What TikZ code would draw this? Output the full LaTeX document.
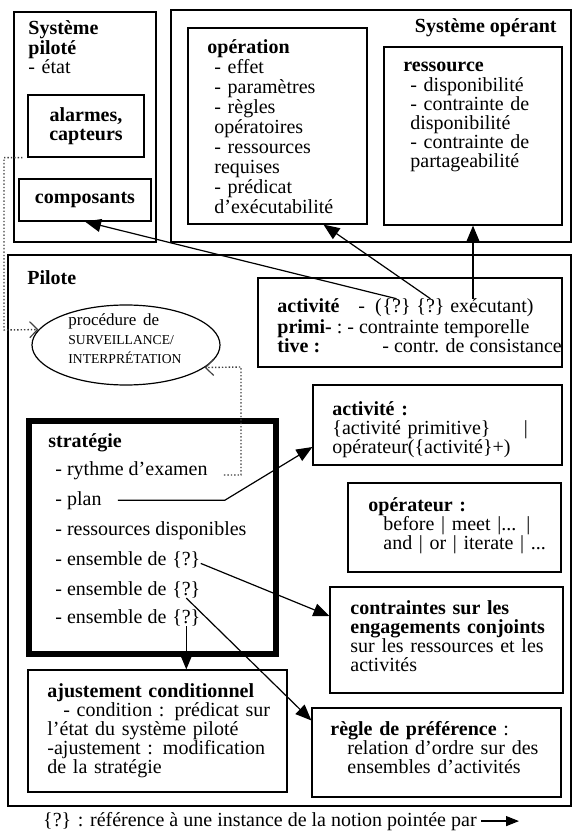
\documentclass[tikz,border=0pt]{standalone}
\usepackage{fontspec}
\setmainfont{Liberation Serif}
\usetikzlibrary{arrows.meta,shapes.geometric,fit}

\newcommand\sous{\hspace*{3.5pt}}

\tikzset{
  box/.style={draw, line width=0.6pt, inner sep=0pt},
  blk/.style={inner sep=0pt, anchor=base west, align=left, text width=#1},
  blk/.default=140pt,
  lbl/.style={inner sep=0pt, anchor=base west},
  fleche/.style={line width=0.6pt, -{Triangle[length=8pt,width=6.5pt]}},
  pointille/.style={densely dotted, line width=0.7pt, black!75,
    -{Straight Barb[length=4pt,width=8pt,line width=0.6pt]}},
}

\begin{document}
\begin{tikzpicture}[x=0.5pt, y=-0.5pt, font=\fontsize{10}{9.6}\selectfont]
\useasboundingbox (0,0) rectangle (572,839);

% systeme pilote
\node[box, fit={(14,12) (156,242)}] (spil) {};
\node[blk] (spiltxt) at (28,35) {\textbf{Système}\\\textbf{piloté}\\- état};
\node[box, fit={(28,95) (144,157)}] (alarm) {};
\node[align=center, inner sep=0pt] (alarmtxt) at (alarm.center) {\textbf{alarmes,}\\\textbf{capteurs}};
\node[box, fit={(19,179) (151,221)}] (comp) {};
\node[inner sep=0pt] (comptxt) at (comp.center) {\textbf{composants}};

% systeme operant
\node[box, fit={(171,10) (571,242)}] (sop) {};
\node[lbl, anchor=base east] (soptxt) at (557,33) {\textbf{Système opérant}};
\node[box, fit={(188,28) (367,224)}] (oper) {};
\node[blk, font=\fontsize{10}{10}\selectfont] (opertxt) at (207,54)
  {\textbf{opération}\\\sous- effet\\\sous- paramètres\\\sous- règles\\\sous opératoires\\\sous- ressources\\\sous requises\\\sous- prédicat\\\sous d’exécutabilité};
\node[box, fit={(384,47) (562,225)}] (ress) {};
\node[blk] (resstxt) at (403,72)
  {\textbf{ressource}\\\sous- disponibilité\\\sous- contrainte de\\\sous disponibilité\\\sous- contrainte de\\\sous partageabilité};

% pilote
\node[box, fit={(8,255) (571,806)}] (pil) {};
\node[lbl] (piltxt) at (27,285) {\textbf{Pilote}};
\node[draw, ellipse, line width=0.6pt, minimum width=94pt, minimum height=40pt, inner sep=0pt] (surv) at (126,345) {};
\node[blk=80pt] (survtxt) at (68,325)
  {{\fontsize{8.5}{9.5}\selectfont procédure de}\\{\fontsize{6.8}{9.5}\selectfont SURVEILLANCE/}\\{\fontsize{6.8}{9.5}\selectfont INTERPRÉTATION}};

% activite primitive
\node[box, fit={(258,278) (562,367)}] (aprim) {};
\node[lbl] (ap1) at (277,313) {\textbf{activité}};
\node[lbl] (ap1b) at (358,313) {-\ \ (};
\node[lbl] (qa) at (ap1b.base east) {\{?\}};
\node[lbl] (qb) at ([xshift=2.5pt]qa.base east) {\{?\}};
\node[lbl] (exe) at ([xshift=2.5pt]qb.base east) {exécutant)};
\node[lbl] (ap2) at (277,333) {\textbf{primi-} :\ - contrainte temporelle};
\node[lbl] (ap3) at (277,352) {\textbf{tive :}};
\node[lbl] (ap3b) at (382,352) {- contr. de consistance};

% activite, operateur
\node[box, fit={(313,385) (562,465)}] (act) {};
\node[blk] (acttxt) at (332,415) {\textbf{activité :}\\\{activité primitive\}\quad\ \ |\\opérateur(\{activité\}+)};
\node[box, fit={(348,483) (561,572)}] (opr) {};
\node[blk] (oprtxt) at (368,511) {\textbf{opérateur :}\\\hspace*{7.5pt}before | meet |... |\\\hspace*{7.5pt}and | or | iterate | ...};

% contraintes, regle
\node[box, fit={(330,587) (563,693)}] (contr) {};
\node[blk] (contrtxt) at (350,614) {\textbf{contraintes sur les}\\\textbf{engagements conjoints}\\sur les ressources et les\\activités};
\node[box, fit={(312,708) (561,797)}] (regle) {};
\node[blk] (regletxt) at (330,735) {\textbf{règle de préférence} :\\\hspace*{8.5pt}relation d’ordre sur des\\\hspace*{8.5pt}ensembles d’activités};

% ajustement
\node[box, fit={(28,670) (287,792)}] (ajust) {};
\node[blk] (ajusttxt) at (47,697) {\textbf{ajustement conditionnel}\\\hspace*{8pt}- condition : prédicat sur\\l’état du système piloté\\-ajustement : modification\\de la stratégie};

% strategie
\node[draw, line width=3pt, inner sep=0pt, fit={(29,421) (276,654)}] (strat) {};
\node[lbl] (strattxt) at (48,447) {\textbf{stratégie}};
\node[lbl] (ryth) at (55,475) {- rythme d’examen};
\node[lbl] (plan) at (55,505) {- plan};
\node[lbl] (rdisp) at (55,535) {- ressources disponibles};
\node[lbl] (ens1) at (55,565) {- ensemble de};
\node[lbl] (q1) at ([xshift=2.5pt]ens1.base east) {\{?\}};
\node[lbl] (ens2) at (55,595) {- ensemble de};
\node[lbl] (q2) at ([xshift=2.5pt]ens2.base east) {\{?\}};
\node[lbl] (ens3) at (55,623) {- ensemble de};
\node[lbl] (q3) at ([xshift=2.5pt]ens3.base east) {\{?\}};

% liens
\draw[fleche] (qa.north) -- (comp.south);
\draw[fleche] (qb.north) -- ([xshift=23pt]oper.south);
\draw[fleche] (exe.north -| ress.south) -- (ress.south);
\draw[fleche] ([xshift=8pt]plan.east) -- ++(107,0) -- ([yshift=-11pt]act.west);
\draw[fleche] ([yshift=-2pt]q1.east) -- ([yshift=12pt]contr.west);
\draw[fleche] (q2.south) -- ([yshift=16pt]regle.west);
\draw[fleche] (q3.south) -- (q3.south |- ajust.north);
\draw[pointille] ([xshift=-2.5pt]alarm.south west) -| (4,330) -- (surv.170);
\draw[pointille] ([xshift=8pt]ryth.base east) -| (241,367) -- (surv.-16);

% legende
\node[lbl, anchor=base east] (legende) at (477,826) {\{?\} : référence à une instance de la notion pointée par};
\coordinate (legfin) at (519,822);
\draw[line width=0.6pt, -{Triangle[length=6.5pt,width=5pt]}] ([xshift=2pt]legende.east) -- (legende.east -| legfin);
\end{tikzpicture}
\end{document}
